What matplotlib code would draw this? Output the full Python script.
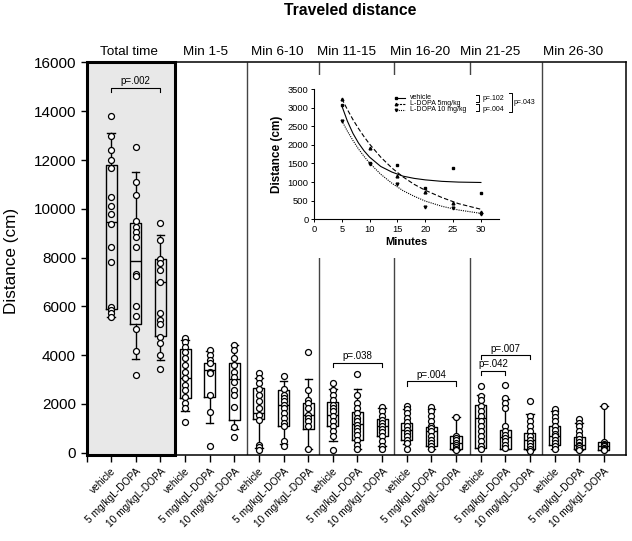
import numpy as np
import matplotlib
matplotlib.use('Agg')
import matplotlib.pyplot as plt
from matplotlib.patches import Rectangle
from matplotlib.transforms import blended_transform_factory

plt.rcParams['font.family'] = ['Liberation Sans', 'DejaVu Sans']

panels = ['Total time', 'Min 1-5', 'Min 6-10', 'Min 11-15', 'Min 16-20', 'Min 21-25', 'Min 26-30']
treatments = ['vehicle', '5 mg/kgL-DOPA', '10 mg/kgL-DOPA']

# single animals per panel: [vehicle, 5 mg/kg, 10 mg/kg]
total_time = [
    [13810, 13000, 12430, 12020, 11680, 10490, 10120, 9770, 9360, 8420, 7800, 5980, 5850, 5740, 5550],
    [12540, 11080, 10570, 9520, 9260, 9060, 8850, 8440, 7310, 7250, 6010, 5600, 5070, 4170, 3180],
    [9400, 8740, 7960, 7790, 7510, 7010, 5740, 5460, 5270, 4750, 4480, 4000, 3430],
]
min1_5 = [
    [4690, 4550, 4340, 4140, 3870, 3590, 3320, 3050, 2770, 2570, 2300, 2020, 1820, 1270],
    [4210, 4000, 3800, 3660, 3320, 3250, 2360, 1680, 270],
    [4410, 4210, 3870, 3590, 3320, 3120, 2910, 2570, 2360, 1890, 1070, 660],
]
min6_10 = [
    [3270, 3060, 2860, 2610, 2380, 2100, 1830, 1560, 1350, 330, 230, 120],
    [3130, 2610, 2380, 2240, 2100, 1970, 1830, 1630, 1420, 1220, 1080, 460, 260],
    [4110, 2580, 2170, 2040, 1830, 1560, 1420, 1280, 1080, 150],
]
min11_15 = [
    [2860, 2580, 2380, 2170, 1970, 1830, 1690, 1490, 1280, 1080, 870, 670, 120],
    [3220, 2380, 2040, 1830, 1630, 1420, 1280, 1150, 1010, 870, 740, 530, 330, 150],
    [1870, 1690, 1490, 1330, 1220, 1110, 970, 830, 670, 460, 260, 150],
]
min16_20 = [
    [1930, 1790, 1630, 1420, 1240, 1080, 940, 810, 670, 530, 400, 160],
    [1870, 1720, 1520, 1280, 1110, 1010, 870, 670, 530, 400, 260, 160],
    [1450, 700, 600, 510, 400, 300, 220, 150, 100],
]
min21_25 = [
    [2750, 2310, 2170, 1900, 1720, 1490, 1310, 1080, 870, 670, 460, 260, 150],
    [2790, 2240, 2040, 1830, 1080, 870, 740, 600, 460, 330, 190],
    [2130, 1490, 1280, 1080, 870, 700, 530, 400, 260, 150, 60],
]
min26_30 = [
    [1790, 1630, 1460, 1280, 1110, 940, 780, 670, 530, 400, 260, 150],
    [1380, 1220, 1080, 900, 740, 560, 420, 330, 260, 190, 120],
    [1930, 420, 370, 310, 260, 190, 150, 100],
]

# box + whisker values, one per column
box_med = [9470, 7870, 6980, 3070, 3390, 3010, 1630, 1970, 1560, 1560, 1190, 1110, 940, 870, 400, 1420, 640, 530, 700, 330, 290]
box_q1 = [5900, 5270, 4780, 2230, 2270, 1340, 1380, 1110, 970, 1080, 530, 670, 530, 260, 150, 190, 150, 150, 330, 150, 120]
box_q3 = [11790, 9430, 7940, 4240, 3660, 3660, 2650, 2580, 2040, 2060, 1650, 1380, 1220, 1050, 670, 1970, 940, 810, 1110, 630, 420]
whis_lo = [5550, 3840, 3800, 1720, 1230, 960, 190, 370, 150, 460, 150, 260, 370, 160, 100, 190, 150, 100, 150, 120, 100]
whis_hi = [13110, 11490, 8920, 4620, 4170, 4410, 3060, 2920, 3020, 2610, 2610, 1830, 1790, 1790, 1460, 2350, 2210, 1600, 1690, 1220, 1930]

# (col a, col b, bracket height, label)
sig = [(1, 3, 14950, 'p=.002'), (10, 12, 3690, 'p=.038'), (13, 15, 2920, 'p=.004'),
       (16, 18, 3990, 'p=.007'), (16, 17, 3360, 'p=.042')]

# inset: group means per 5 min and fitted decay curves
minutes = [5, 10, 15, 20, 25, 30]
mean_vehicle = [3070, 1500, 1460, 850, 1370, 700]
mean_5mg = [3220, 1910, 1160, 740, 450, 200]
mean_10mg = [2650, 1480, 940, 340, 300, 130]
fit_minutes = [5, 6, 7, 8, 9, 10, 12, 14, 16, 18, 20, 23, 26, 30]
fit_vehicle = [3050, 2640, 2310, 2050, 1840, 1670, 1420, 1270, 1160, 1100, 1060, 1020, 1000, 990]
fit_5mg = [3240, 2950, 2680, 2440, 2220, 2020, 1670, 1380, 1140, 940, 780, 585, 420, 270]
fit_10mg = [2650, 2370, 2120, 1890, 1690, 1510, 1210, 970, 770, 620, 490, 350, 250, 160]

all_cols = total_time + min1_5 + min6_10 + min11_15 + min16_20 + min21_25 + min26_30
pos = np.arange(1, len(all_cols) + 1)

fig = plt.figure(figsize=(6.32, 5.41), dpi=100)
ax = fig.add_axes([0.1369, 0.1588, 0.8536, 0.7257])
ax.set_xlim(0, 21.9)
ax.set_ylim(-100, 16000)

ax.add_patch(Rectangle((0, -100), 3.58, 16100, facecolor='#e8e8e8', edgecolor='black',
                       lw=2.2, zorder=0.5, clip_on=False))
ax.vlines([6.5, 9.42, 12.47, 15.55, 18.5], -100, 16000, color='#444444', lw=1, zorder=0.6)

stats = []
for i in range(len(all_cols)):
    stats.append(dict(med=box_med[i], q1=box_q1[i], q3=box_q3[i],
                      whislo=whis_lo[i], whishi=whis_hi[i], fliers=[]))
lp = dict(color='black', lw=1)
ax.bxp(stats, positions=pos, widths=0.45, capwidths=0.3, boxprops=lp, whiskerprops=lp,
       capprops=lp, medianprops=lp, showfliers=False, manage_ticks=False, zorder=2)

for p, vals in zip(pos, all_cols):
    ax.plot([p] * len(vals), vals, 'o', mfc='white', mec='black', ms=4.3, mew=0.9, zorder=3)

for a, b, h, lab in sig:
    ax.plot([a, a, b, b], [h - 170, h, h, h - 170], color='black', lw=0.8, zorder=3)
    ax.text((a + b) / 2, h + 280, lab, ha='center', va='center', fontsize=7)

ax.set_xticks(np.arange(0, 22))
ax.set_xticklabels([''] + treatments * 7, rotation=45, ha='right', rotation_mode='anchor', fontsize=7.3)
ax.set_yticks(np.arange(0, 16001, 2000))
ax.tick_params(axis='y', labelsize=11, length=4, width=1)
ax.tick_params(axis='x', length=5, width=1, pad=3)
for s in ax.spines.values():
    s.set_linewidth(1.1)

trans = blended_transform_factory(ax.transData, ax.transAxes)
header_x = [1.73, 4.82, 7.74, 10.57, 13.52, 16.40, 19.74]
for hx, name in zip(header_x, panels):
    ax.text(hx, 1.0275, name, transform=trans, ha='center', va='center', fontsize=9.7)

fig.text(0.554, 0.981, 'Traveled distance', ha='center', va='center', fontsize=11.3, weight='bold')
fig.text(0.018, 0.5176, 'Distance (cm)', rotation=90, ha='center', va='center', fontsize=12.3)

# white backing behind the inset
fig.add_artist(Rectangle((0.4146, 0.523), 0.4364, 0.338, transform=fig.transFigure,
                         facecolor='white', edgecolor='none', zorder=1))

ins = fig.add_axes([0.4968, 0.5946, 0.2932, 0.2408], zorder=2)
ins.set_xlim(0, 33.3)
ins.set_ylim(0, 3500)
ins.spines['top'].set_visible(False)
ins.spines['right'].set_visible(False)
for s in ['left', 'bottom']:
    ins.spines[s].set_linewidth(0.8)
ins.set_xticks(np.arange(0, 31, 5))
ins.set_yticks(np.arange(0, 3501, 500))
ins.tick_params(labelsize=6.7, length=2.5, width=0.7, pad=1.5)
ins.set_xlabel('Minutes', fontsize=8, weight='bold', labelpad=2)
ins.set_ylabel('Distance (cm)', fontsize=8.5, weight='bold', labelpad=3)

ins.plot(fit_minutes, fit_vehicle, color='black', lw=0.8, ls='-')
ins.plot(fit_minutes, fit_5mg, color='black', lw=0.8, ls=(0, (4, 2)))
ins.plot(fit_minutes, fit_10mg, color='black', lw=0.8, ls=(0, (1, 1)))
ins.plot(minutes, mean_vehicle, 's', color='black', ms=2)
ins.plot(minutes, mean_5mg, '^', color='black', ms=2)
ins.plot(minutes, mean_10mg, 'v', color='black', ms=2)

# hand-drawn legend with p-value brackets
leg_rows = [0.935, 0.889, 0.843]
leg_labels = ['vehicle', 'L-DOPA 5mg/kg', 'L-DOPA 10 mg/kg']
leg_styles = [('-', 's'), ((0, (2, 1)), '^'), ((0, (1, 1)), 'v')]
for yy, lab, (ls, mk) in zip(leg_rows, leg_labels, leg_styles):
    ins.plot([0.4425, 0.491], [yy, yy], transform=ins.transAxes, color='black', lw=0.8, ls=ls, clip_on=False)
    ins.plot([0.4425], [yy], mk, transform=ins.transAxes, color='black', ms=1.8, clip_on=False)
    ins.text(0.518, yy, lab, transform=ins.transAxes, fontsize=5, va='center', ha='left')

def bracket(x, y0, y1, w=0.015):
    ins.plot([x - w, x, x, x - w], [y0, y0, y1, y1], transform=ins.transAxes,
             color='black', lw=0.7, clip_on=False)

bracket(0.890, 0.954, 0.900)
bracket(0.890, 0.885, 0.831)
bracket(1.069, 0.969, 0.823)
ins.text(0.907, 0.927, 'p=.102', transform=ins.transAxes, fontsize=5, va='center')
ins.text(0.907, 0.843, 'p=.004', transform=ins.transAxes, fontsize=5, va='center')
ins.text(1.079, 0.893, 'p=.043', transform=ins.transAxes, fontsize=5, va='center')

fig.savefig('out.png', dpi=100)
